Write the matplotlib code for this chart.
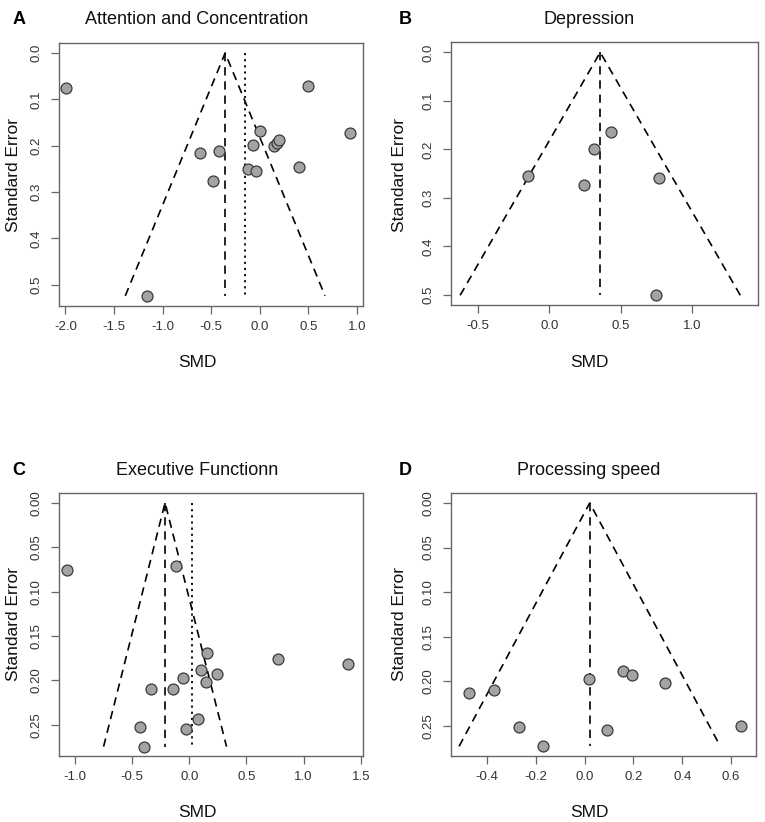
import numpy as np
import matplotlib
matplotlib.use("Agg")
import matplotlib.pyplot as plt

# panel A: attention and concentration
smd_a = [-1.99, 0.50, 0.925, 0.00, -0.07, 0.15, 0.175, 0.20, -0.615, -0.42,
         -0.48, -0.125, -0.035, 0.405, -1.16]
se_a = [0.075, 0.072, 0.172, 0.169, 0.198, 0.200, 0.194, 0.187, 0.215, 0.211,
        0.276, 0.251, 0.255, 0.247, 0.524]
est_a = -0.356
trim_a = -0.151

# panel B: depression
smd_b = [0.432, 0.313, -0.152, 0.241, 0.766, 0.748]
se_b = [0.165, 0.199, 0.254, 0.273, 0.259, 0.501]
est_b = 0.357

# panel C: executive function
smd_c = [-1.07, -0.119, 0.152, 0.774, 1.392, 0.103, 0.243, -0.052, 0.146,
         -0.338, -0.145, 0.079, -0.428, -0.029, -0.393]
se_c = [0.0762, 0.0709, 0.169, 0.176, 0.181, 0.1877, 0.1926, 0.1974, 0.202,
        0.2098, 0.2098, 0.2436, 0.2523, 0.2541, 0.2744]
est_c = -0.212
trim_c = 0.021

# panel D: processing speed
smd_d = [-0.474, -0.370, -0.267, -0.172, 0.017, 0.092, 0.156, 0.194, 0.331, 0.641]
se_d = [0.2133, 0.210, 0.2515, 0.2732, 0.198, 0.2545, 0.1886, 0.1935, 0.2017, 0.250]
est_d = 0.021

W, H = 765, 822
fig = plt.figure(figsize=(W / 100, H / 100), dpi=100)
plt.rcParams['font.family'] = 'Liberation Sans'

box_col = '#666666'
txt_col = '#333333'


def px_axes(l, r, t, b):
    return fig.add_axes([l / W, 1 - b / H, (r - l) / W, (b - t) / H])


def funnel(ax, smd, se, est, xlim, ylim, xticks, yticks, yfmt, trim=None):
    top = max(se)
    ax.plot([est - 1.96 * top, est, est + 1.96 * top], [top, 0, top],
            color='black', lw=1.2, dashes=(5, 3.5))
    ax.plot([est, est], [0, top], color='black', lw=1.2, dashes=(5, 3.5))
    if trim is not None:
        ax.plot([trim, trim], [0, top], color='black', lw=1.3, dashes=(1.2, 2.2))
    ax.scatter(smd, se, s=62, facecolor='#a3a3a3', edgecolor='#3a3a3a',
               linewidth=0.9, zorder=3)
    ax.set_xlim(*xlim)
    ax.set_ylim(*ylim)
    ax.set_xticks(xticks)
    ax.set_xticklabels(['%.1f' % v for v in xticks])
    ax.set_yticks(yticks)
    ax.set_yticklabels([yfmt % v for v in yticks], rotation=90, va='center')
    ax.tick_params(colors=box_col, labelcolor=txt_col, labelsize=9.5,
                   length=6, width=0.9, pad=5)
    ax.tick_params(axis='y', pad=6)
    for s in ax.spines.values():
        s.set_color(box_col)
        s.set_linewidth(1.0)


axA = px_axes(59, 363, 43, 306)
funnel(axA, smd_a, se_a, est_a, (-2.065, 1.062), (0.546, -0.0216),
       [-2.0, -1.5, -1.0, -0.5, 0.0, 0.5, 1.0], [0.0, 0.1, 0.2, 0.3, 0.4, 0.5],
       '%.1f', trim=trim_a)

axB = px_axes(451, 758, 42, 305)
funnel(axB, smd_b, se_b, est_b, (-0.689, 1.463), (0.521, -0.0213),
       [-0.5, 0.0, 0.5, 1.0], [0.0, 0.1, 0.2, 0.3, 0.4, 0.5], '%.1f')

axC = px_axes(59, 363, 493, 756)
funnel(axC, smd_c, se_c, est_c, (-1.140, 1.520), (0.285, -0.0109),
       [-1.0, -0.5, 0.0, 0.5, 1.0, 1.5], [0.0, 0.05, 0.10, 0.15, 0.20, 0.25],
       '%.2f', trim=trim_c)

axD = px_axes(451, 756, 493, 756)
funnel(axD, smd_d, se_d, est_d, (-0.5475, 0.7025), (0.284, -0.0112),
       [-0.4, -0.2, 0.0, 0.2, 0.4, 0.6], [0.0, 0.05, 0.10, 0.15, 0.20, 0.25],
       '%.2f')

panels = [("A", "Attention and Concentration", 19, 197, 20, 362, 175),
          ("B", "Depression", 405, 589, 20, 362, 175),
          ("C", "Executive Functionn", 19, 197, 470, 812, 624),
          ("D", "Processing speed", 405, 589, 470, 812, 624)]
for lab, title, lx, cx, ty, sy, ey in panels:
    fig.text(lx / W, 1 - ty / H, lab, fontsize=13, fontweight='bold',
             ha='center', va='center', color='black')
    fig.text(cx / W, 1 - ty / H, title, fontsize=13, ha='center', va='center',
             color='#111111')
    fig.text(cx / W, 1 - sy / H, "SMD", fontsize=12.5, ha='center', va='center',
             color='#111111')
    fig.text((lx - 5) / W, 1 - ey / H, "Standard Error", fontsize=12.5,
             rotation=90, ha='center', va='center', color='#111111')

fig.savefig('out.png', dpi=100, facecolor='white')
